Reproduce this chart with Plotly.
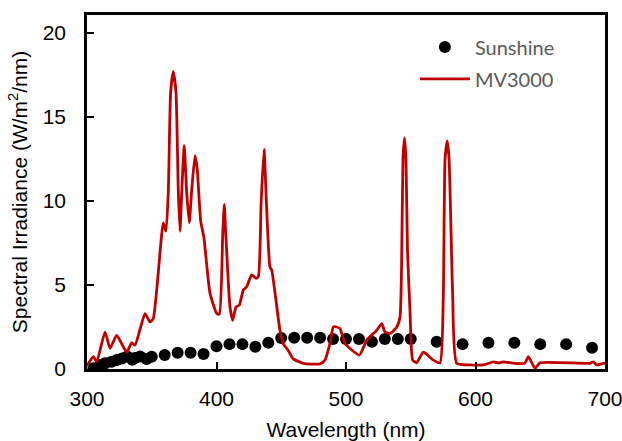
import plotly.graph_objects as go

# Sunshine spectrum (dots)
sun_wl = [305, 310, 314, 319, 323, 327, 331, 335, 337, 341, 346, 350, 360, 370, 380, 390,
          400, 410, 420, 430, 440, 450, 460, 470, 480, 490, 500, 510, 520, 530, 540, 550,
          570, 590, 610, 630, 650, 670, 690]
sun_irr = [0.04, 0.24, 0.34, 0.43, 0.53, 0.63, 0.75, 0.55, 0.65, 0.75, 0.6, 0.73, 0.83, 0.97,
           0.97, 0.89, 1.36, 1.48, 1.48, 1.32, 1.56, 1.84, 1.86, 1.86, 1.86, 1.78, 1.78, 1.78,
           1.62, 1.78, 1.78, 1.78, 1.62, 1.48, 1.56, 1.56, 1.48, 1.48, 1.26]

# MV3000 lamp spectrum (line)
mv_wl = [300.0, 304.9, 307.5, 313.9, 317.8, 322.9, 330.7, 334.5, 337.1, 344.8, 348.6, 351.2,
         358.9, 361.0, 362.8, 364.6, 366.6, 368.7, 370.5, 371.8, 373.2, 375.1, 376.9, 379.0,
         380.8, 383.4, 385.0, 387.8, 390.3, 395.0, 400.2, 402.2, 404.8, 406.0, 407.2, 410.4,
         412.5, 415.1, 417.6, 420.7, 423.3, 427.2, 430.5, 432.3, 434.5, 436.7, 438.5, 441.3,
         442.6, 449.0, 451.6, 455.4, 459.3, 467.0, 479.9, 483.8, 487.6, 490.2, 492.8, 495.4,
         499.2, 510.3, 516.0, 523.7, 527.6, 530.1, 534.0, 539.2, 541.7, 542.9, 544.0, 545.2,
         546.3, 547.5, 549.4, 551.5, 554.6, 559.7, 567.4, 572.6, 575.1, 576.5, 578.2, 579.6,
         582.3, 585.5, 595.8, 607.0, 613.7, 617.6, 621.5, 630.0, 638.0, 640.8, 646.0, 649.8,
         688.4, 691.0, 693.6, 698.7, 700.0]
mv_irr = [0.18, 0.73, 0.43, 2.2, 1.23, 2.0, 1.0, 1.56, 1.42, 3.3, 2.8, 3.0,
          8.7, 8.2, 10.6, 16.5, 17.7, 16.5, 10.6, 8.2, 10.6, 13.3, 10.6, 8.7,
          10.6, 12.7, 12.0, 8.8, 7.8, 4.5, 3.3, 3.26, 8.0, 9.8, 8.0, 3.7,
          2.9, 3.7, 3.8, 4.7, 4.9, 5.6, 5.4, 5.5, 10.0, 13.07, 10.0, 6.06,
          5.9, 2.3, 1.5, 1.1, 0.6, 0.34, 0.3, 0.53, 1.52, 2.5, 2.5, 2.4,
          1.52, 0.83, 1.72, 2.3, 2.7, 2.2, 2.1, 2.5, 3.1, 6.0, 12.5, 13.76,
          12.5, 7.0, 3.5, 0.53, 0.37, 1.0, 0.53, 0.37, 4.2, 12.5, 13.57, 12.5,
          4.6, 0.34, 0.24, 0.26, 0.43, 0.36, 0.43, 0.34, 0.34, 0.73, 0.04, 0.37,
          0.34, 0.43, 0.24, 0.34, 0.34]

x_ticks = [300, 400, 500, 600, 700]
y_ticks = [0, 5, 10, 15, 20]

fig = go.Figure()
fig.add_trace(go.Scatter(x=sun_wl, y=sun_irr, mode="markers", name="Sunshine",
                         legendgroup="a",
                         marker=dict(color="black", size=12)))
fig.add_trace(go.Scatter(x=mv_wl, y=mv_irr, mode="lines", name="MV3000",
                         legendgroup="b",
                         line=dict(color="#C00000", width=2.8, shape="spline",
                                   smoothing=0.5)))

axis_font = dict(family="Liberation Sans, Arial, sans-serif", size=21, color="black")

fig.update_layout(
    width=622, height=441,
    margin=dict(l=87, r=17, t=15, b=72),
    plot_bgcolor="white", paper_bgcolor="white",
    showlegend=True,
    legend=dict(x=0.633, y=0.965, xanchor="left", yanchor="top", itemwidth=50,
                font=dict(family="Lato, sans-serif", size=20, color="#595959"),
                bgcolor="rgba(0,0,0,0)", tracegroupgap=3),
    xaxis=dict(range=[300, 700], tickvals=x_ticks, ticks="inside", ticklen=7,
               tickwidth=2, tickcolor="black", showline=True, linewidth=2.5,
               linecolor="black", mirror=True, showgrid=False, zeroline=False,
               automargin=False, ticklabeloverflow="allow",
               tickfont=axis_font, ticklabelstandoff=9,
               title=dict(text="Wavelength (nm)", font=axis_font, standoff=14)),
    yaxis=dict(range=[0, 21.07], tickvals=y_ticks, ticks="inside", ticklen=7,
               tickwidth=2, tickcolor="black", showline=True, linewidth=2.5,
               linecolor="black", mirror=True, showgrid=False, zeroline=False,
               automargin=False, ticklabeloverflow="allow",
               tickfont=axis_font, ticklabelstandoff=14,
               title=dict(text="Spectral Irradiance (W/m<sup>2</sup>/nm)", font=axis_font,
                          standoff=10)),
)

fig.write_html("out.html")
